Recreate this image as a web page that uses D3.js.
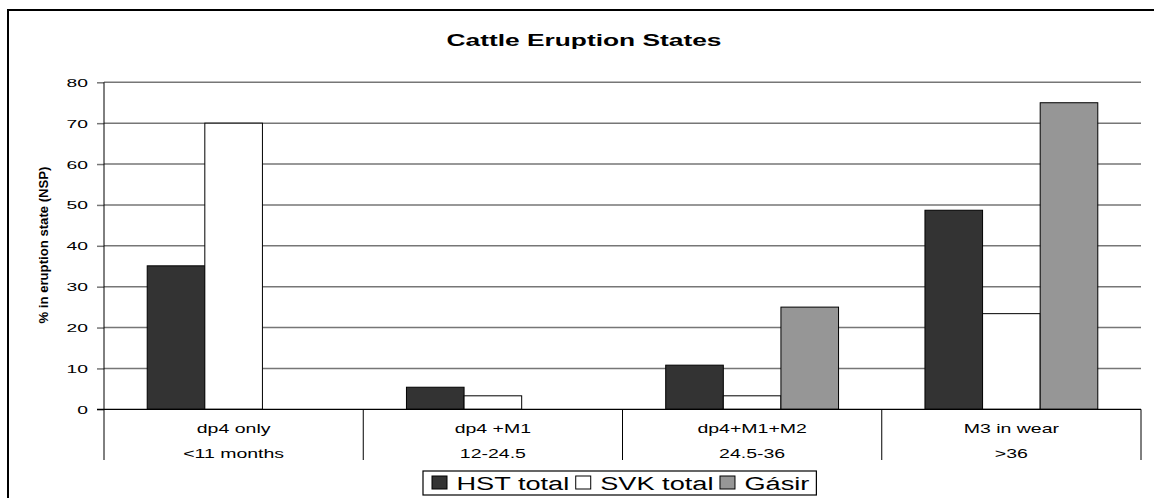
<!DOCTYPE html>
<html>
<head>
<meta charset="utf-8">
<script src="https://cdn.jsdelivr.net/npm/d3@7"></script>
<style>
  html, body { margin: 0; padding: 0; background: #fff; }
  svg { display: block; font-family: "Liberation Sans", Arial, sans-serif; }
</style>
</head>
<body>
<div id="chart"></div>
<script>
const categories = ["dp4 only", "dp4 +M1", "dp4+M1+M2", "M3 in wear"];
const ageLabels = ["<11 months", "12-24.5", "24.5-36", ">36"];
const seriesNames = ["HST total", "SVK total", "Gásir"];
const hstTotal = [35.1, 5.4, 10.8, 48.7];
const svkTotal = [70, 3.3, 3.3, 23.4];
const gasir = [0, 0, 25, 75];
const yTicks = [0, 10, 20, 30, 40, 50, 60, 70, 80];
const seriesColors = ["#333333", "#ffffff", "#969696"];

const seriesValues = [hstTotal, svkTotal, gasir];

const width = 1154;
const height = 498;
const plot = { left: 104, right: 1141, top: 82.3, bottom: 409.3, tableBottom: 460 };

const svg = d3.select("#chart")
  .append("svg")
  .attr("width", width)
  .attr("height", height);

// chart area border (runs off the right and bottom edge in the original)
svg.append("rect")
  .attr("x", 8)
  .attr("y", 10)
  .attr("width", 1170)
  .attr("height", 510)
  .attr("fill", "#fff")
  .attr("stroke", "#000")
  .attr("stroke-width", 2);

const x0 = d3.scaleBand()
  .domain(categories)
  .range([plot.left, plot.right])
  .paddingInner(0)
  .paddingOuter(0);

const x1 = d3.scaleBand()
  .domain(seriesNames)
  .range([0, x0.bandwidth()])
  .paddingInner(0)
  .paddingOuter(0.75);

const y = d3.scaleLinear()
  .domain([0, 80])
  .range([plot.bottom, plot.top]);

// gridlines
svg.append("g")
  .selectAll("line")
  .data(yTicks.filter((d) => d > 0))
  .enter()
  .append("line")
  .attr("x1", plot.left)
  .attr("x2", plot.right)
  .attr("y1", (d) => y(d))
  .attr("y2", (d) => y(d))
  .attr("stroke", "#767676")
  .attr("stroke-width", 1.5);

// y axis
const yAxis = svg.append("g")
  .attr("transform", `translate(${plot.left},0)`)
  .call(d3.axisLeft(y).tickValues(yTicks).tickSize(7).tickSizeOuter(0));

yAxis.select(".domain").remove();
yAxis.selectAll(".tick line").attr("stroke", "#767676").attr("stroke-width", 1.5);
yAxis.selectAll(".tick text")
  .attr("x", null)
  .attr("dy", "0.36em")
  .attr("transform", "translate(-16,0) scale(1.75,1)")
  .style("font-family", "'Liberation Sans', Arial, sans-serif")
  .style("font-size", "11px")
  .attr("fill", "#000");

// bars
const barData = [];
categories.forEach((cat, i) => {
  seriesNames.forEach((s, j) => {
    barData.push({ cat, series: s, value: seriesValues[j][i], color: seriesColors[j] });
  });
});

svg.append("g")
  .selectAll("rect")
  .data(barData.filter((d) => d.value > 0))
  .enter()
  .append("rect")
  .attr("x", (d) => x0(d.cat) + x1(d.series))
  .attr("y", (d) => y(d.value))
  .attr("width", x1.bandwidth())
  .attr("height", (d) => y(0) - y(d.value))
  .attr("fill", (d) => d.color)
  .attr("stroke", "#000")
  .attr("stroke-width", 1);

// axis lines + category table
svg.append("line")
  .attr("x1", plot.left)
  .attr("x2", plot.left)
  .attr("y1", plot.top)
  .attr("y2", plot.tableBottom)
  .attr("stroke", "#000");

svg.append("line")
  .attr("x1", plot.left - 7)
  .attr("x2", plot.right)
  .attr("y1", y(0))
  .attr("y2", y(0))
  .attr("stroke", "#000")
  .attr("stroke-width", 1.2);

const separators = categories.map((c) => x0(c) + x0.bandwidth());
svg.append("g")
  .selectAll("line")
  .data(separators)
  .enter()
  .append("line")
  .attr("x1", (d) => d)
  .attr("x2", (d) => d)
  .attr("y1", y(0))
  .attr("y2", plot.tableBottom)
  .attr("stroke", "#000");

const catLabels = svg.append("g")
  .selectAll("g")
  .data(categories)
  .enter()
  .append("g")
  .attr("transform", (d) => `translate(${x0(d) + x0.bandwidth() / 2},0)`);

catLabels.append("text")
  .attr("transform", "translate(0,432.5) scale(1.5,1)")
  .attr("text-anchor", "middle")
  .style("font-size", "13px")
  .text((d) => d);

catLabels.append("text")
  .attr("transform", "translate(0,458) scale(1.5,1)")
  .attr("text-anchor", "middle")
  .style("font-size", "13px")
  .text((d, i) => ageLabels[i]);

// title
svg.append("text")
  .attr("transform", "translate(584,46) scale(1.55,1)")
  .attr("text-anchor", "middle")
  .style("font-size", "17px")
  .style("font-weight", "bold")
  .text("Cattle Eruption States");

// y axis title
svg.append("text")
  .attr("transform", "translate(48,245) rotate(-90)")
  .attr("text-anchor", "middle")
  .attr("textLength", 157)
  .attr("lengthAdjust", "spacingAndGlyphs")
  .style("font-size", "12.5px")
  .style("font-weight", "bold")
  .text("% in eruption state (NSP)");

// legend
const legend = svg.append("g");
const legendBox = legend.append("rect")
  .attr("y", 471)
  .attr("height", 24)
  .attr("fill", "#fff")
  .attr("stroke", "#000")
  .attr("stroke-width", 1.2);

const legendSx = 1.43;
let lx = 432;
seriesNames.forEach((name, i) => {
  legend.append("rect")
    .attr("x", lx)
    .attr("y", 476)
    .attr("width", 15)
    .attr("height", 13)
    .attr("fill", seriesColors[i])
    .attr("stroke", "#000")
    .attr("stroke-width", 1);
  const t = legend.append("text")
    .attr("transform", `translate(${lx + 24.5},489.5) scale(${legendSx},1)`)
    .style("font-size", "19px")
    .text(name);
  const w = t.node().getComputedTextLength() * legendSx;
  lx = lx + 24.5 + w + (i < seriesNames.length - 1 ? 6.5 : 7);
});
legendBox.attr("x", 423).attr("width", lx - 423);
</script>
</body>
</html>
